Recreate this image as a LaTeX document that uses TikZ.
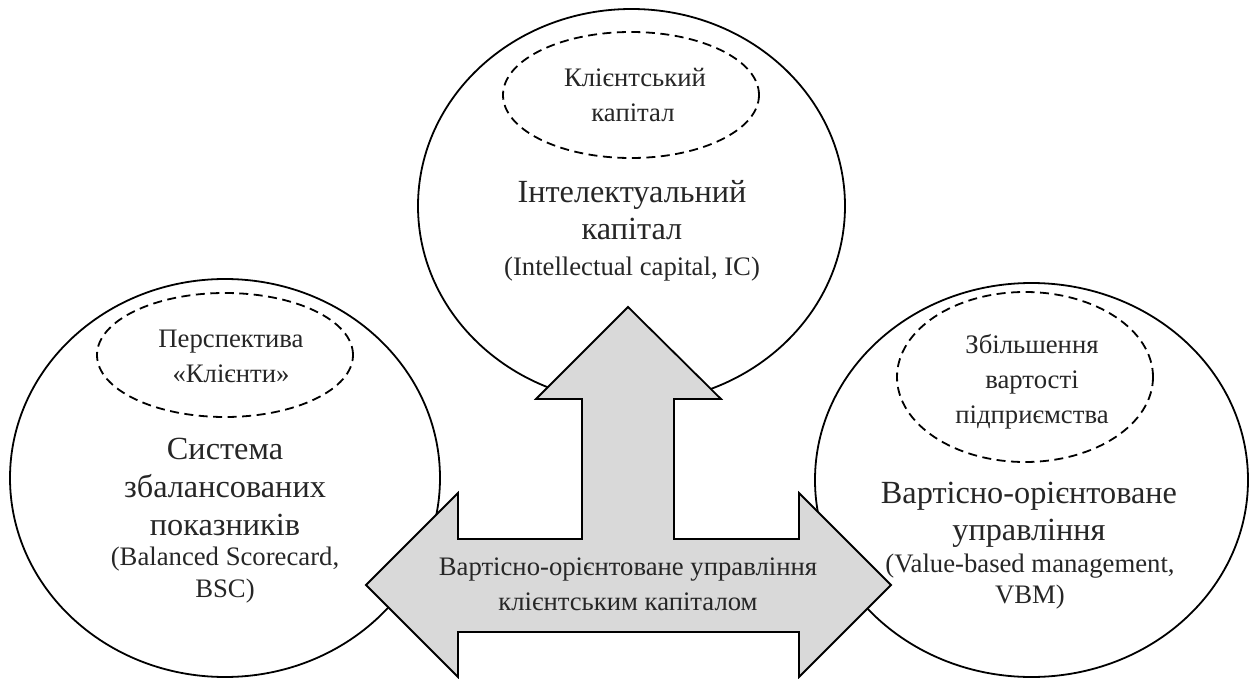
\documentclass[tikz,border=0pt]{standalone}
\usepackage{fontspec}
\setmainfont{Liberation Serif}
\usetikzlibrary{shapes.geometric}
\begin{document}
\begin{tikzpicture}[x=1bp,y=-1bp,
  circ/.style={ellipse, draw=black, line width=1.8bp, fill=white, inner sep=0pt},
  dashell/.style={ellipse, draw=black, line width=1.8bp, dash pattern=on 9bp off 5.5bp, inner sep=0pt},
  bigtxt/.style={font=\fontsize{32.4}{37.5}\selectfont, text=black!85, anchor=base, inner sep=0pt},
  smalltxt/.style={font=\fontsize{26.8}{31.5}\selectfont, text=black!85, anchor=base, inner sep=0pt},
  elltxt/.style={font=\fontsize{26.8}{35}\selectfont, text=black!85, anchor=base, inner sep=0pt},
  bigarrow/.style={draw=black, line width=1.8bp, fill=black!15, line join=miter}
]
\useasboundingbox (0,0) rectangle (1256,679);
\fill[white] (0,0) rectangle (1256,679);

% circles
\node[circ, minimum width=427bp, minimum height=394bp] (ic) at (631.5,206) {};
\node[circ, minimum width=430bp, minimum height=398bp] (bsc) at (225,478) {};
\node[circ, minimum width=433bp, minimum height=394bp] (vbm) at (1031.5,480) {};

% dashed ellipses
\node[dashell, minimum width=256bp, minimum height=126bp] (icd) at (631,95) {};
\node[dashell, minimum width=256bp, minimum height=124bp] (bscd) at (225,355) {};
\node[dashell, minimum width=256bp, minimum height=170bp] (vbmd) at (1025,377) {};

% top circle texts
\node[elltxt] (icd1) at (635,87) {Клієнтський};
\node[elltxt] (icd2) at (633,122) {капітал};
\node[bigtxt] (ic1) at (632,203) {Інтелектуальний};
\node[bigtxt] (ic2) at (632,240) {капітал};
\node[smalltxt] (ic3) at (632,275) {(Intellectual capital, IC)};

% left circle texts
\node[elltxt] (bscd1) at (231,347) {Перспектива};
\node[elltxt] (bscd2) at (231,382) {«Клієнти»};
\node[bigtxt] (bsc1) at (225,459) {Система};
\node[bigtxt] (bsc2) at (225,497) {збалансованих};
\node[bigtxt] (bsc3) at (225,535) {показників};
\node[smalltxt] (bsc4) at (225,565) {(Balanced Scorecard,};
\node[smalltxt] (bsc5) at (225,597) {BSC)};

% right circle texts
\node[elltxt] (vbmd1) at (1032,353) {Збільшення};
\node[elltxt] (vbmd2) at (1032,388) {вартості};
\node[elltxt] (vbmd3) at (1032,423) {підприємства};
\node[bigtxt] (vbm1) at (1029,503) {Вартісно-орієнтоване};
\node[bigtxt] (vbm2) at (1029,540) {управління};
\node[smalltxt] (vbm3) at (1030,572) {(Value-based management,};
\node[smalltxt] (vbm4) at (1030,603) {VBM)};

% arrow
\draw[bigarrow] (628,307) -- (721,399) -- (674,399) -- (674,539) -- (799,539) -- (799,493)
  -- (891,585) -- (799,677) -- (799,632) -- (458,632) -- (458,677) -- (366,585)
  -- (458,493) -- (458,539) -- (582,539) -- (582,399) -- (536,399) -- cycle;
\node[elltxt] (arr1) at (628,575) {Вартісно-орієнтоване управління};
\node[elltxt] (arr2) at (628,610) {клієнтським капіталом};
\end{tikzpicture}
\end{document}
